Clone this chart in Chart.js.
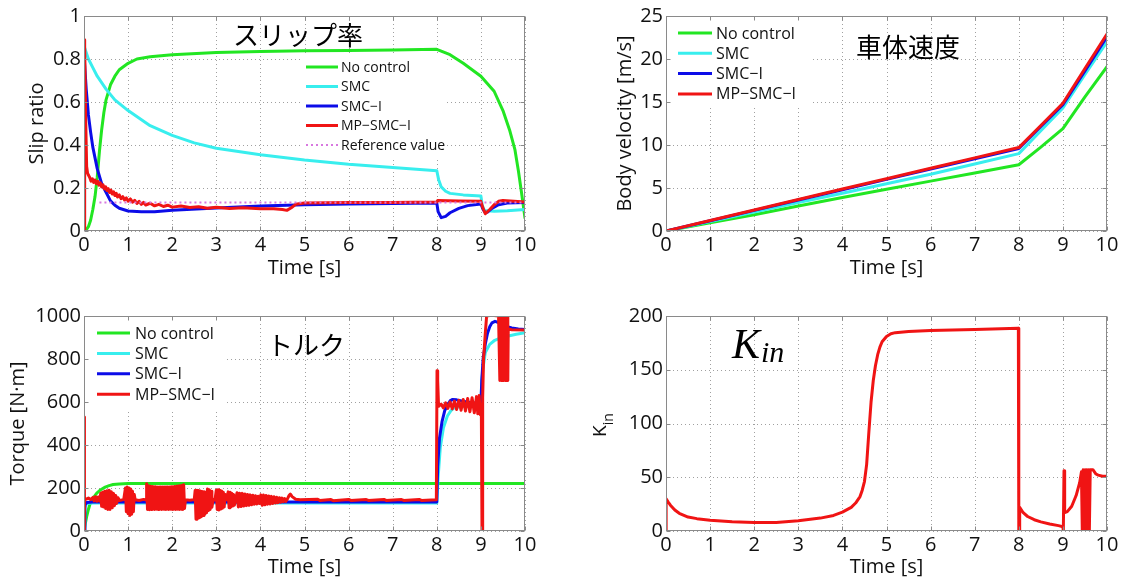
<!DOCTYPE html>
<html><head><meta charset="utf-8">
<script src="https://cdn.jsdelivr.net/npm/chart.js@4.4.0/dist/chart.umd.min.js"></script>
<style>
html,body{margin:0;padding:0;background:#fff;width:1124px;height:579px;overflow:hidden;}
canvas{position:absolute;display:block;}
</style></head><body>
<canvas id="c1" width="562" height="290" style="left:0;top:0;width:562px;height:290px"></canvas>
<canvas id="c2" width="562" height="290" style="left:562px;top:0;width:562px;height:290px"></canvas>
<canvas id="c3" width="562" height="289" style="left:0;top:290px;width:562px;height:289px"></canvas>
<canvas id="c4" width="562" height="289" style="left:562px;top:290px;width:562px;height:289px"></canvas>
<script>
// ---------------- tick labels ----------------
const timeTicks = ['0','1','2','3','4','5','6','7','8','9','10'];
const slipTicks = ['0','0.2','0.4','0.6','0.8','1'];
const velocityTicks = ['0','5','10','15','20','25'];
const torqueTicks = ['0','200','400','600','800','1000'];
const kinTicks = ['0','50','100','150','200'];

// ---------------- series labels ----------------
const seriesNames = ['No control', 'SMC', 'SMC\u2212I', 'MP\u2212SMC\u2212I', 'Reference value'];

// ---------------- slip ratio [time, value] ----------------
const slipNoControl = [[0,0],[0.05,0.005],[0.1,0.02],[0.15,0.05],[0.2,0.1],[0.25,0.16],[0.3,0.25],[0.35,0.37],[0.4,0.47],[0.45,0.55],[0.5,0.61],[0.6,0.68],[0.7,0.72],[0.8,0.75],[1,0.78],[1.2,0.8],[1.5,0.81],[2,0.82],[3,0.83],[4,0.835],[5,0.838],[6,0.84],[7,0.842],[8,0.845],[8.3,0.82],[8.6,0.78],[9,0.72],[9.3,0.65],[9.5,0.56],[9.65,0.47],[9.77,0.38],[9.85,0.28],[9.92,0.18],[10,0.06]];
const slipSMC = [[0,0.86],[0.1,0.8],[0.2,0.76],[0.3,0.72],[0.5,0.66],[0.7,0.61],[1,0.56],[1.5,0.49],[2,0.445],[2.5,0.41],[3,0.385],[4,0.355],[5,0.33],[6,0.31],[7,0.295],[8,0.28],[8.04,0.24],[8.1,0.205],[8.2,0.185],[8.3,0.175],[8.6,0.168],[9,0.163],[9.03,0.12],[9.08,0.095],[9.3,0.092],[9.6,0.094],[10,0.1]];
const slipSMCI = [[0,0.82],[0.05,0.66],[0.1,0.54],[0.15,0.46],[0.2,0.39],[0.3,0.29],[0.4,0.22],[0.5,0.18],[0.6,0.14],[0.7,0.12],[0.8,0.106],[1,0.093],[1.3,0.09],[1.6,0.09],[2,0.097],[3,0.107],[4,0.116],[5,0.122],[6,0.126],[7,0.128],[8,0.13],[8.03,0.09],[8.1,0.062],[8.2,0.068],[8.3,0.085],[8.5,0.105],[8.7,0.118],[9,0.126],[9.05,0.1],[9.1,0.085],[9.15,0.088],[9.25,0.105],[9.4,0.122],[9.6,0.13],[10,0.133]];
const slipMPSMCI = [[0,0],[0.01,0.89],[0.02,0.86],[0.04,0.5],[0.06,0.3],[0.08,0.27],[0.1,0.26],[0.13,0.249],[0.16,0.232],[0.19,0.243],[0.22,0.226],[0.25,0.237],[0.28,0.22],[0.31,0.231],[0.34,0.213],[0.37,0.224],[0.4,0.205],[0.43,0.215],[0.46,0.196],[0.49,0.206],[0.52,0.188],[0.55,0.197],[0.58,0.179],[0.61,0.19],[0.64,0.172],[0.67,0.182],[0.7,0.165],[0.73,0.175],[0.76,0.158],[0.8,0.168],[0.84,0.15],[0.88,0.16],[0.92,0.144],[0.96,0.154],[1,0.139],[1.05,0.149],[1.1,0.134],[1.15,0.143],[1.2,0.128],[1.25,0.138],[1.3,0.124],[1.35,0.133],[1.4,0.121],[1.5,0.129],[1.6,0.117],[1.7,0.124],[1.8,0.114],[1.9,0.12],[2,0.111],[2.2,0.116],[2.4,0.109],[2.6,0.113],[2.8,0.106],[3,0.11],[3.3,0.105],[3.6,0.108],[4,0.104],[4.3,0.104],[4.5,0.1],[4.6,0.096],[4.7,0.108],[4.8,0.124],[5,0.13],[6,0.132],[7,0.133],[8,0.135],[8.02,0.142],[8.5,0.14],[9,0.138],[9.04,0.11],[9.1,0.08],[9.2,0.1],[9.3,0.122],[9.4,0.138],[9.5,0.142],[10,0.135]];
const slipReference = [[0.35,0.133],[10,0.133]];

// ---------------- body velocity [time, value] ----------------
const velNoControl = [[0,0],[1,0.95],[2,1.9],[3,2.9],[4,3.9],[5,4.85],[6,5.8],[7,6.75],[8,7.7],[8.5,9.75],[9,11.9],[9.5,15.6],[10,19.1]];
const velSMC = [[0,0],[1,1.1],[2,2.2],[3,3.3],[4,4.4],[5,5.5],[6,6.6],[7,7.8],[8,9.0],[8.5,11.65],[9,14.3],[9.5,18.2],[10,22.0]];
const velSMCI = [[0,0],[1,1.2],[2,2.4],[3,3.6],[4,4.8],[5,6.0],[6,7.2],[7,8.4],[8,9.6],[8.5,12.15],[9,14.7],[9.5,18.6],[10,22.6]];
const velMPSMCI = [[0,0],[1,1.22],[2,2.44],[3,3.66],[4,4.88],[5,6.08],[6,7.3],[7,8.5],[8,9.7],[8.5,12.27],[9,14.85],[9.5,18.9],[10,22.9]];

// ---------------- torque [time, value] ----------------
const tqNoControl = [[0,0],[0.03,35],[0.06,67],[0.1,100],[0.14,129],[0.2,152],[0.29,176],[0.38,192],[0.48,204],[0.57,211],[0.66,216],[0.8,219],[1,221],[10,221]];
const tqSMC = [[0,0],[0.02,110],[0.06,128],[0.2,130],[8,130],[8.03,250],[8.08,390],[8.15,480],[8.24,535],[8.32,560],[8.4,574],[8.6,580],[9,580],[9.02,700],[9.05,760],[9.1,830],[9.2,868],[9.3,885],[9.45,898],[9.6,906],[9.8,915],[10,922]];
const tqSMCI = [[0,0],[0.02,120],[0.06,133],[0.2,135],[8,135],[8.02,300],[8.06,430],[8.12,510],[8.18,560],[8.24,585],[8.3,605],[8.36,612],[8.45,610],[8.56,605],[8.75,598],[9,592],[9.02,700],[9.05,800],[9.1,870],[9.15,920],[9.2,950],[9.25,968],[9.32,975],[9.4,970],[9.5,958],[9.6,950],[9.7,944],[9.85,940],[10,937]];
const tqMPSMCI = [[0,0],[0.005,530],[0.015,150],[0.05,148],[0.1,153],[0.15,146],[0.2,156],[0.23,140],[0.26,160],[0.29,138],[0.32,158],[0.35,140],
[0.38,175],[0.4,115],[0.42,180],[0.44,112],[0.47,185],[0.49,105],[0.52,187],[0.54,100],[0.57,190],[0.59,100],[0.62,182],[0.64,108],[0.67,175],[0.69,118],[0.72,165],[0.74,128],[0.77,155],[0.8,142],[0.9,146],
[0.94,200],[0.96,90],[0.98,205],[1,80],[1.02,200],[1.04,72],[1.06,195],[1.08,78],[1.1,185],[1.12,90],[1.14,170],[1.16,145],[1.25,142],[1.35,147],[1.41,144],
[1.42,220],[1.44,100],[1.46,210],[1.48,99],[1.5,208],[1.52,100],[1.54,207],[1.56,101],[1.58,206],[1.6,100],[1.62,206],[1.64,101],[1.66,205],[1.68,100],[1.7,205],[1.72,101],[1.74,205],[1.76,100],[1.78,205],[1.8,101],[1.82,205],[1.84,100],[1.86,205],[1.88,101],[1.9,205],[1.92,100],[1.94,205],[1.96,101],[1.98,206],[2,100],[2.02,206],[2.04,101],[2.06,207],[2.08,100],[2.1,208],[2.12,101],[2.14,209],[2.16,100],[2.18,210],[2.2,101],[2.22,212],[2.24,100],[2.26,215],[2.28,105],[2.3,145],[2.4,143],[2.5,146],
[2.52,188],[2.54,55],[2.56,190],[2.58,58],[2.6,188],[2.62,62],[2.64,186],[2.66,66],[2.68,184],[2.7,72],[2.72,182],[2.74,78],[2.76,180],[2.78,85],
[2.8,195],[2.82,95],[2.84,192],[2.86,100],[2.88,185],[2.9,110],[2.93,146],[2.97,144],
[3,190],[3.02,100],[3.04,192],[3.06,98],[3.08,190],[3.1,102],[3.12,186],[3.14,106],[3.16,180],[3.18,112],[3.2,170],[3.23,145],
[3.27,182],[3.29,108],[3.31,180],[3.33,112],[3.35,176],[3.37,116],[3.39,170],[3.41,120],[3.44,150],
[3.47,178],[3.5,112],[3.53,176],[3.56,114],[3.59,175],[3.62,116],[3.65,172],[3.68,118],[3.71,170],[3.74,120],[3.77,168],[3.8,122],[3.83,166],[3.86,124],[3.89,164],[3.92,126],[3.95,162],[3.98,128],
[4.01,168],[4.04,120],[4.07,167],[4.1,122],[4.13,165],[4.16,124],[4.19,163],[4.22,126],[4.25,161],[4.28,128],[4.31,159],[4.34,130],[4.37,157],[4.4,132],[4.43,155],[4.46,134],[4.49,153],[4.52,136],[4.55,151],[4.58,138],[4.61,148],
[4.65,165],[4.68,172],[4.72,160],[4.8,148],[4.9,145],[5.3,148],[5.35,142],[5.6,146],[5.65,141],[6,147],[6.05,142],[6.4,146],[6.45,142],[6.8,147],[6.85,142],[7.2,146],[7.25,142],[7.6,147],[7.65,142],[7.99,145],
[8,145],[8.005,745],[8.02,700],[8.04,580],[8.1,590],[8.15,572],[8.2,596],[8.25,570],[8.3,600],[8.35,568],[8.4,604],[8.45,565],[8.5,608],[8.55,562],[8.6,612],[8.65,558],[8.7,616],[8.75,555],[8.8,620],[8.85,550],[8.9,625],[8.93,545],[8.96,630],[8.99,540],
[9.01,560],[9.025,0],[9.04,620],[9.06,800],[9.1,920],[9.13,1000],[9.2,1002],[9.3,1002],[9.4,1000],
[9.43,700],[9.445,1000],[9.46,700],[9.475,1000],[9.49,700],[9.505,1000],[9.52,700],[9.535,1000],[9.55,700],[9.565,1000],[9.58,700],[9.595,1000],[9.61,700],[9.62,940],[9.7,936],[10,935]];

// ---------------- K_in [time, value] ----------------
const kinMPSMCI = [[0,0],[0.003,30],[0.05,27],[0.1,24],[0.2,19.5],[0.3,16.5],[0.5,13],[0.7,11.5],[1,10],[1.5,8.5],[2,7.8],[2.5,7.8],[3,9.5],[3.5,12],[3.8,14.5],[4,17.5],[4.2,22],[4.3,26],[4.4,32],[4.45,38],[4.5,46],[4.55,62],[4.6,92],[4.65,120],[4.7,140],[4.75,154],[4.8,164],[4.85,171],[4.9,176],[5,181],[5.1,183.5],[5.2,184.5],[5.5,185.5],[6,186.5],[7,187.5],[7.99,188.5],[8,0],[8.01,0],[8.02,22],[8.1,17],[8.2,13.5],[8.35,10.5],[8.5,8.5],[8.7,6.5],[8.9,5],[9,4],[9.01,0],[9.02,0],[9.025,56],[9.04,17],[9.1,18],[9.2,23],[9.3,33],[9.38,45],[9.42,55],[9.44,0],[9.46,57],[9.48,0],[9.5,57],[9.52,0],[9.54,57],[9.56,0],[9.58,57],[9.6,0],[9.62,57],[9.68,57],[9.75,53],[9.8,52],[9.9,51],[10,51]];

// ---------------- styles ----------------
const SANS = '"Open Sans", "Noto Sans", sans-serif';
const CJK = '"Noto Sans CJK JP", "Noto Sans", sans-serif';
const SERIF = '"Liberation Serif", "DejaVu Serif", serif';
const TXT = '#111111';
const GRID = '#a0a0a0';
const FRAME = '#8a8a8a';
const C = {green:'#22e622', cyan:'#38eeee', blue:'#0c0ce8', red:'#f01414', magenta:'#d878e0'};

function toXY(pairs){ return pairs.map(p => ({x:p[0], y:p[1]})); }

const decor = {
  id: 'decor',
  beforeDatasetsDraw(chart) {
    // dotted grid (MATLAB style) drawn from the scales' own ticks
    const ctx = chart.ctx, a = chart.chartArea;
    const xs = chart.scales.x, ys = chart.scales.y;
    ctx.save();
    ctx.fillStyle = GRID;
    xs.ticks.forEach(t => {
      const px = Math.round(xs.getPixelForValue(t.value));
      for (let y = Math.round(a.bottom) - 3; y > a.top; y -= 4) ctx.fillRect(px, y, 1, 1);
    });
    ys.ticks.forEach(t => {
      const py = Math.round(ys.getPixelForValue(t.value));
      for (let x = Math.round(a.left) + 3; x < a.right; x += 4) ctx.fillRect(x, py, 1, 1);
    });
    ctx.restore();
  },
  afterDatasetsDraw(chart, args, o) {
    const ctx = chart.ctx;
    ctx.save();
    if (o.legend) {
      const L = o.legend;
      ctx.fillStyle = '#fff';
      ctx.fillRect(L.box[0], L.box[1], L.box[2], L.box[3]);
      ctx.font = L.size + 'px ' + SANS;
      ctx.textBaseline = 'middle';
      ctx.textAlign = 'left';
      chart.data.datasets.forEach((ds, i) => {
        const y = L.y0 + i * L.dy;
        ctx.strokeStyle = ds.borderColor;
        ctx.lineWidth = ds.borderWidth;
        ctx.setLineDash(ds.borderDash || []);
        ctx.lineCap = 'butt';
        ctx.beginPath(); ctx.moveTo(L.x0, y); ctx.lineTo(L.x1, y); ctx.stroke();
        ctx.setLineDash([]);
        ctx.fillStyle = TXT;
        ctx.fillText(ds.label, L.tx, y + 1);
      });
    }
    if (o.title) {
      ctx.font = o.title.size + 'px ' + CJK;
      ctx.fillStyle = '#000';
      ctx.textAlign = 'center';
      ctx.textBaseline = 'middle';
      ctx.fillText(o.title.text, o.title.x, o.title.y);
    }
    if (o.math) {
      ctx.fillStyle = '#000';
      ctx.textAlign = 'left';
      ctx.textBaseline = 'alphabetic';
      ctx.font = 'italic 42px ' + SERIF;
      ctx.fillText(o.math.main, o.math.x, o.math.y);
      const w = ctx.measureText(o.math.main).width;
      ctx.font = 'italic 30px ' + SERIF;
      ctx.fillText(o.math.sub, o.math.x + w + 1, o.math.y + 4);
    }
    if (o.yLabel) {
      const Y = o.yLabel;
      ctx.translate(Y.x, Y.y);
      ctx.rotate(-Math.PI / 2);
      ctx.fillStyle = TXT;
      ctx.textAlign = 'left';
      ctx.textBaseline = 'alphabetic';
      ctx.font = '19px ' + SANS;
      ctx.fillText(Y.main, 0, 0);
      const w = ctx.measureText(Y.main).width;
      ctx.font = '14px ' + SANS;
      ctx.fillText(Y.sub, w, 7);
    }
    ctx.restore();
  },
  afterDraw(chart) {
    const ctx = chart.ctx, a = chart.chartArea;
    const xs = chart.scales.x, ys = chart.scales.y;
    ctx.save();
    ctx.strokeStyle = FRAME;
    ctx.lineWidth = 1;
    ctx.setLineDash([]);
    const L = Math.round(a.left) + 0.5, R = Math.round(a.right) - 0.5;
    const T = Math.round(a.top) + 0.5, B = Math.round(a.bottom) - 0.5;
    ctx.strokeRect(L, T, R - L, B - T);
    ctx.beginPath();
    xs.ticks.forEach(t => {
      const px = Math.round(xs.getPixelForValue(t.value)) + 0.5;
      ctx.moveTo(px, B); ctx.lineTo(px, B - 4);
      ctx.moveTo(px, T); ctx.lineTo(px, T + 4);
    });
    ys.ticks.forEach(t => {
      const py = Math.round(ys.getPixelForValue(t.value)) + 0.5;
      ctx.moveTo(L, py); ctx.lineTo(L + 4, py);
      ctx.moveTo(R, py); ctx.lineTo(R - 4, py);
    });
    ctx.stroke();
    ctx.restore();
  }
};

function build(id, spec) {
  const canvas = document.getElementById(id);
  const W = canvas.width, H = canvas.height;
  const p = spec.plot;
  const yt = spec.yTicks;
  return new Chart(canvas, {
    type: 'line',
    data: {
      datasets: spec.series.map((s, i) => ({
        label: s.label,
        data: toXY(s.data),
        borderColor: s.color,
        backgroundColor: s.color,
        borderWidth: s.width || 3,
        borderDash: s.dash || [],
        borderCapStyle: s.dash ? 'butt' : 'round',
        borderJoinStyle: 'round',
        pointRadius: 0,
        pointHoverRadius: 0,
        tension: 0,
        fill: false,
        clip: 0,
        order: spec.series.length - i
      }))
    },
    options: {
      responsive: false,
      animation: false,
      devicePixelRatio: 1,
      events: [],
      layout: { padding: { left: 0, top: p.t, right: W - p.r, bottom: 0 } },
      plugins: { legend: { display: false }, tooltip: { enabled: false }, decor: spec.decor },
      scales: {
        x: {
          type: 'linear', min: 0, max: 10,
          ticks: { stepSize: 1, autoSkip: false, maxRotation: 0, padding: 2, color: TXT,
                   font: { family: SANS, size: 20 }, callback: (v, i) => timeTicks[i] },
          grid: { display: false, drawTicks: false },
          border: { display: false },
          title: { display: true, text: 'Time [s]', color: TXT, font: { family: SANS, size: 20 },
                   padding: { top: 0, bottom: spec.xTitlePad } },
          afterFit: s => { s.height = H - p.b; }
        },
        y: {
          type: 'linear', min: Number(yt[0]), max: Number(yt[yt.length - 1]),
          ticks: { stepSize: Number(yt[1]) - Number(yt[0]), autoSkip: false, padding: 3, color: TXT,
                   font: { family: SANS, size: 20 }, callback: (v, i) => yt[i] },
          grid: { display: false, drawTicks: false },
          border: { display: false },
          title: { display: !!spec.yTitle, text: spec.yTitle || '', color: TXT, font: { family: SANS, size: 20 },
                   padding: { top: spec.yTitlePad || 0, bottom: 0 } },
          afterFit: s => { s.width = p.l; }
        }
      }
    },
    plugins: [decor]
  });
}

build('c1', {
  plot: { l: 84, r: 525, t: 16, b: 231 },
  yTicks: slipTicks, yTitle: 'Slip ratio', yTitlePad: 25, xTitlePad: 10,
  series: [
    { label: seriesNames[0], data: slipNoControl, color: C.green },
    { label: seriesNames[1], data: slipSMC, color: C.cyan },
    { label: seriesNames[2], data: slipSMCI, color: C.blue },
    { label: seriesNames[3], data: slipMPSMCI, color: C.red },
    { label: seriesNames[4], data: slipReference, color: C.magenta, width: 2, dash: [2, 3] }
  ],
  decor: {
    title: { text: 'スリップ率', x: 298, y: 35, size: 26 },
    legend: { box: [300, 55, 147, 102], x0: 306, x1: 338, tx: 341, y0: 67, dy: 19.5, size: 14 }
  }
});

build('c2', {
  plot: { l: 104, r: 545, t: 16, b: 231 },
  yTicks: velocityTicks, yTitle: 'Body velocity [m/s]', yTitlePad: 51, xTitlePad: 10,
  series: [
    { label: seriesNames[0], data: velNoControl, color: C.green },
    { label: seriesNames[1], data: velSMC, color: C.cyan },
    { label: seriesNames[2], data: velSMCI, color: C.blue },
    { label: seriesNames[3], data: velMPSMCI, color: C.red }
  ],
  decor: {
    title: { text: '車体速度', x: 346, y: 47, size: 26 },
    legend: { box: [110, 20, 138, 88], x0: 116, x1: 150, tx: 154, y0: 33, dy: 20.3, size: 16 }
  }
});

build('c3', {
  plot: { l: 84, r: 525, t: 26, b: 241 },
  yTicks: torqueTicks, yTitle: 'Torque [N\u00B7m]', yTitlePad: 6, xTitlePad: 0,
  series: [
    { label: seriesNames[0], data: tqNoControl, color: C.green },
    { label: seriesNames[1], data: tqSMC, color: C.cyan },
    { label: seriesNames[2], data: tqSMCI, color: C.blue },
    { label: seriesNames[3], data: tqMPSMCI, color: C.red }
  ],
  decor: {
    title: { text: 'トルク', x: 306, y: 55, size: 26 },
    legend: { box: [88, 30, 138, 92], x0: 97, x1: 130, tx: 135, y0: 43, dy: 20.4, size: 16 }
  }
});

build('c4', {
  plot: { l: 104, r: 545, t: 26, b: 241 },
  yTicks: kinTicks, yTitle: '', xTitlePad: 0,
  series: [
    { label: seriesNames[3], data: kinMPSMCI, color: C.red }
  ],
  decor: {
    math: { main: 'K', sub: 'in', x: 170, y: 68 },
    yLabel: { main: 'K', sub: 'in', x: 44, y: 147 }
  }
});
</script>
</body></html>
